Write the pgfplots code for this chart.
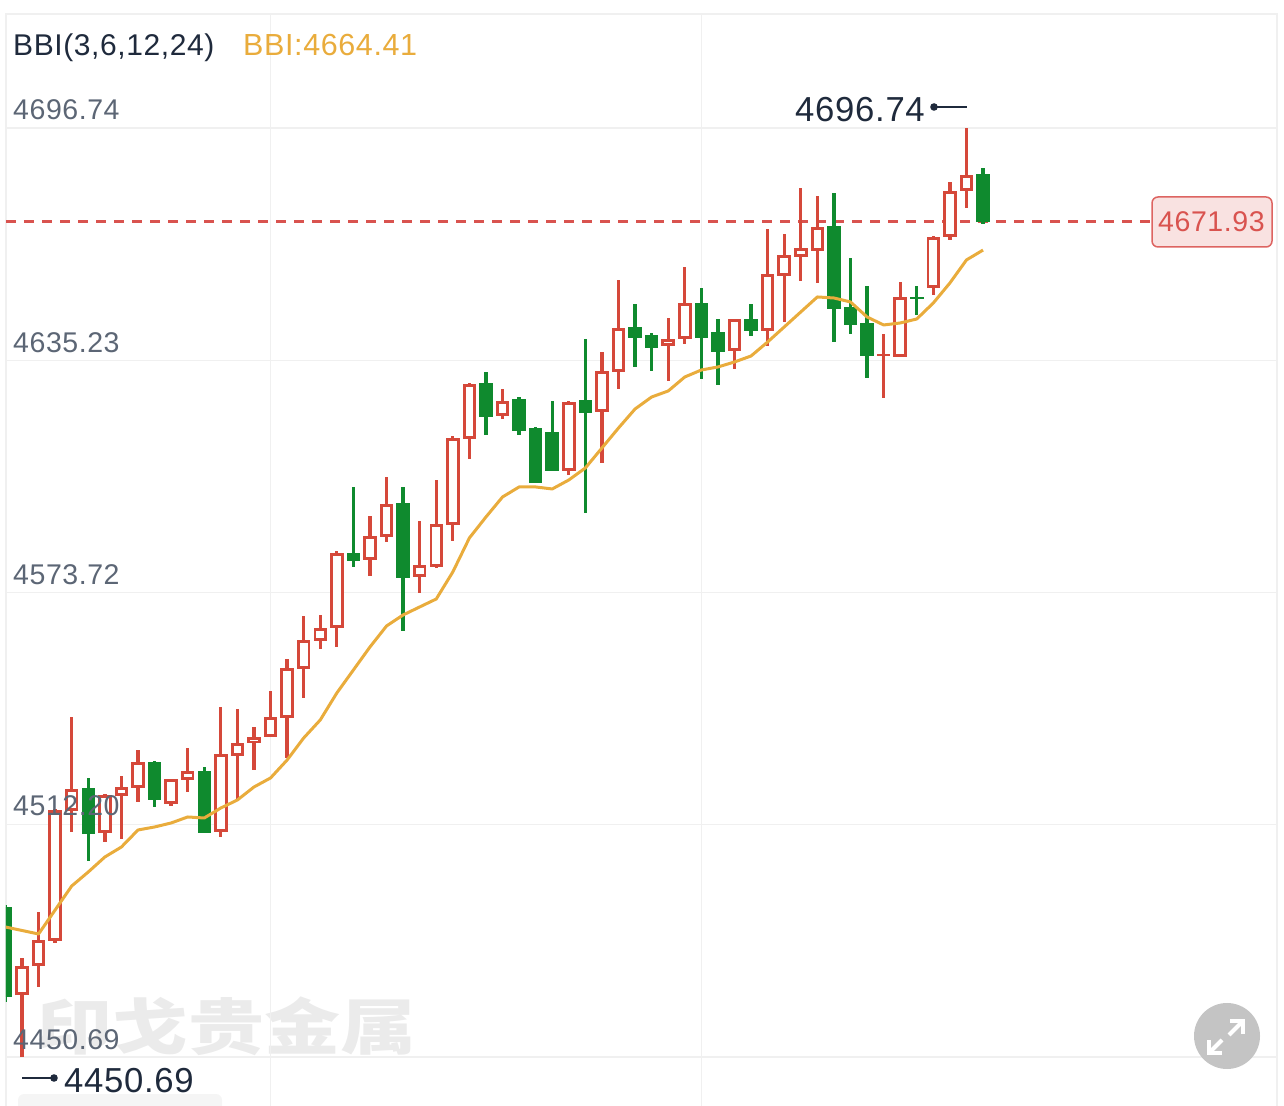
\documentclass[border=0pt]{standalone}
\usepackage{fontspec}
\setmainfont[LetterSpace=2]{Liberation Sans}
\newfontfamily\cjk{Noto Sans CJK SC}
\usepackage{pgfplots}
\usepackage{pgfplotstable}
\pgfplotsset{compat=1.18}
\definecolor{cred}{HTML}{D5483A}
\definecolor{cgreen}{HTML}{0F8A2E}
\definecolor{corange}{HTML}{E9AC3C}
\definecolor{cgrid}{HTML}{F0F0F0}
\definecolor{cdark}{HTML}{1F2A3C}
\definecolor{caxis}{HTML}{5C6675}
\definecolor{cdash}{HTML}{D9534F}
\pgfplotstableread{
x open close high low
1 4467.11 4474.79 4476.91 4450.69
2 4474.79 4481.68 4489.10 4469.23
3 4481.42 4516.11 4516.38 4480.89
4 4515.85 4521.67 4540.74 4510.28
6 4510.02 4520.08 4520.35 4507.64
7 4519.82 4522.20 4525.12 4508.43
8 4521.94 4528.82 4532.00 4518.23
10 4517.70 4524.32 4524.32 4517.17
11 4524.06 4526.44 4532.53 4520.88
13 4510.28 4530.94 4543.39 4508.96
14 4530.41 4533.86 4542.86 4518.76
15 4533.86 4535.45 4538.09 4526.71
16 4535.45 4540.74 4547.63 4535.45
17 4540.48 4553.72 4556.10 4529.88
18 4553.46 4561.14 4567.49 4545.77
19 4560.87 4564.31 4567.76 4558.75
20 4564.31 4584.18 4584.71 4559.28
22 4582.32 4588.68 4593.98 4578.09
23 4588.42 4597.16 4604.31 4587.09
25 4577.82 4581.00 4592.65 4573.58
26 4580.47 4591.86 4603.51 4580.21
27 4591.59 4614.64 4615.17 4587.36
28 4614.37 4628.94 4629.20 4609.07
30 4620.46 4624.44 4627.61 4619.67
34 4605.90 4624.17 4624.44 4604.84
36 4621.52 4632.38 4637.41 4608.01
37 4632.12 4643.77 4656.48 4627.61
40 4639.00 4640.86 4646.42 4629.73
41 4640.86 4650.39 4659.93 4639.53
44 4637.68 4646.15 4646.15 4632.91
46 4642.97 4658.07 4669.99 4639.00
47 4657.54 4663.10 4668.67 4645.36
48 4662.57 4664.96 4680.85 4656.22
49 4664.16 4670.52 4678.73 4655.69
54 4636.09 4651.98 4655.95 4636.09
56 4654.36 4667.87 4668.14 4652.51
57 4667.87 4680.05 4682.44 4667.08
58 4680.05 4684.29 4696.74 4675.55
}\redtab
\pgfplotstableread{
x open close high low
53 4636.35 4636.88 4642.18 4625.23
}\dojitab
\pgfplotstableread{
x open close high low
0 4490.42 4466.58 4490.95 4465.26
5 4521.94 4509.75 4524.59 4502.60
9 4528.82 4518.76 4529.09 4516.91
12 4526.44 4510.02 4527.50 4510.02
21 4584.18 4582.06 4601.66 4580.47
24 4597.42 4577.56 4601.66 4563.52
29 4629.20 4620.20 4632.12 4615.43
31 4624.96 4616.49 4625.49 4615.43
32 4617.28 4602.72 4617.55 4602.72
33 4616.22 4605.90 4624.44 4605.90
35 4624.70 4621.26 4640.86 4594.77
38 4644.03 4641.12 4650.13 4633.44
39 4641.92 4638.47 4642.44 4632.38
42 4650.39 4641.12 4654.36 4630.26
43 4642.71 4637.41 4646.15 4628.67
45 4646.15 4642.97 4650.13 4641.65
50 4670.78 4648.80 4679.52 4640.06
51 4649.33 4644.56 4662.31 4642.18
52 4645.09 4636.35 4654.89 4630.53
55 4651.98 4651.45 4654.89 4647.21
59 4684.56 4671.93 4686.15 4671.31
}\greentab
\pgfplotstableread{
x bbi
0 4485.12
2 4483.27
3 4489.63
4 4495.98
5 4499.69
6 4503.66
7 4506.31
8 4510.81
9 4511.61
10 4512.67
11 4514.26
12 4513.99
13 4516.64
14 4518.76
15 4522.20
16 4524.59
17 4529.35
18 4535.18
19 4539.95
20 4547.10
21 4553.19
22 4559.28
23 4564.84
24 4567.76
25 4569.88
26 4571.99
27 4579.15
28 4588.15
29 4593.71
30 4599.01
31 4601.66
32 4601.66
33 4601.13
34 4603.51
35 4606.69
36 4611.99
37 4617.28
38 4622.32
39 4625.49
40 4627.08
41 4630.79
42 4632.64
43 4633.44
44 4634.76
45 4636.35
46 4640.06
47 4644.03
48 4648.01
49 4651.98
50 4651.71
51 4650.66
52 4646.68
53 4644.56
54 4645.09
55 4646.15
56 4650.39
57 4655.69
58 4661.78
59 4664.41
}\bbitab
\pgfplotsset{candle/.style n args={2}{draw=none,no markers,error bars/.cd,y dir=plus,y explicit,error mark=none,error bar style={line width=#1,draw=#2}}}
\begin{document}
\begin{tikzpicture}[x=1pt,y=1pt]
\useasboundingbox (0,0) rectangle (1284,1105);
\clip (0,0) rectangle (1284,1105);
% watermark
\node[anchor=base west,inner sep=0pt,text=black!8,font=\cjk\bfseries\fontsize{76}{76}\selectfont,yscale=0.8] at (36,56) {印戈贵金属};
% bottom badge
\fill[gray!8,rounded corners=6pt] (18,-20) rectangle (222,11);
\begin{axis}[
  at={(6pt,-10pt)},anchor=south west,
  scale only axis,width=1271pt,height=1101pt,
  xmin=0.034,xmax=76.74,ymin=4435.33,ymax=4726.93,
  xtick={16,42},ytick={4450.69,4512.20,4573.72,4635.23,4696.74},
  xticklabels={},yticklabels={},
  major tick length=0pt,
  grid=major,major grid style={draw=cgrid,line width=1.2pt},
  axis line style={draw=cgrid,line width=1.2pt},
]
\addplot[draw=cdash,line width=3pt,dash pattern=on 10pt off 8pt] coordinates {(0.034,4671.93)(69.19,4671.93)};
% red wicks and bodies
\addplot[candle={3.3pt}{cred}] table[x=x,y=low,y error plus expr=\thisrow{high}-\thisrow{low}] {\redtab};
\addplot[candle={13.5pt}{cred}] table[x=x,y=open,y error plus expr=\thisrow{close}-\thisrow{open}] {\redtab};
\addplot[candle={7.7pt}{white}] table[x=x,y expr=\thisrow{open}+0.75,y error plus expr=\thisrow{close}-\thisrow{open}-1.5] {\redtab};
% doji
\addplot[candle={3.3pt}{cred}] table[x=x,y=low,y error plus expr=\thisrow{high}-\thisrow{low}] {\dojitab};
\addplot[candle={13.5pt}{cred}] table[x=x,y=open,y error plus expr=\thisrow{close}-\thisrow{open}] {\dojitab};
% green wicks and bodies
\addplot[candle={3.3pt}{cgreen}] table[x=x,y=low,y error plus expr=\thisrow{high}-\thisrow{low}] {\greentab};
\addplot[candle={13.5pt}{cgreen}] table[x=x,y=close,y error plus expr=\thisrow{open}-\thisrow{close}] {\greentab};
% BBI
\addplot[draw=corange,line width=3pt,line join=round,no markers] table[x=x,y=bbi] {\bbitab};
\end{axis}
% header and axis labels
\node[anchor=base west,inner sep=0pt,text=cdark,font=\fontsize{30}{32}\selectfont] at (13,1049) {BBI(3,6,12,24)};
\node[anchor=base west,inner sep=0pt,text=corange,font=\fontsize{30.5}{32}\selectfont] at (243,1049) {BBI:4664.41};
\begin{scope}[every node/.style={anchor=base west,inner sep=0pt,text=caxis,font=\fontsize{28.5}{32}\selectfont}]
\node at (13,985) {4696.74};
\node at (13,752.5) {4635.23};
\node at (13,520.5) {4573.72};
\node at (13,289) {4512.20};
\node at (13,56) {4450.69};
\end{scope}
% high and low marks
\node[anchor=base west,inner sep=0pt,text=cdark,font=\fontsize{34.7}{36}\selectfont] at (795,983) {4696.74};
\draw[cdark,line width=1.6pt] (934,998) -- (967,998);
\fill[cdark] (934,998) circle (3.8);
\node[anchor=base west,inner sep=0pt,text=cdark,font=\fontsize{34.7}{36}\selectfont] at (64,13) {4450.69};
\draw[cdark,line width=1.6pt] (22,27) -- (54,27);
\fill[cdark] (54,27) circle (3.8);
% price tag
\draw[draw=cdash!90,fill=cdash!17,line width=1.5pt,rounded corners=6pt] (1152,858) rectangle (1272,908);
\node[anchor=base west,inner sep=0pt,text=cdash,font=\fontsize{28.5}{32}\selectfont] at (1158,873) {4671.93};
% expand button
\fill[black!23] (1227,69) circle (33);
\draw[white,line width=4pt] (1230,84) -- (1243,84) -- (1243,71);
\draw[white,line width=4pt] (1243,84) -- (1229,70);
\draw[white,line width=4pt] (1209,65) -- (1209,52) -- (1222,52);
\draw[white,line width=4pt] (1209,52) -- (1222,65);
\end{tikzpicture}
\end{document}
